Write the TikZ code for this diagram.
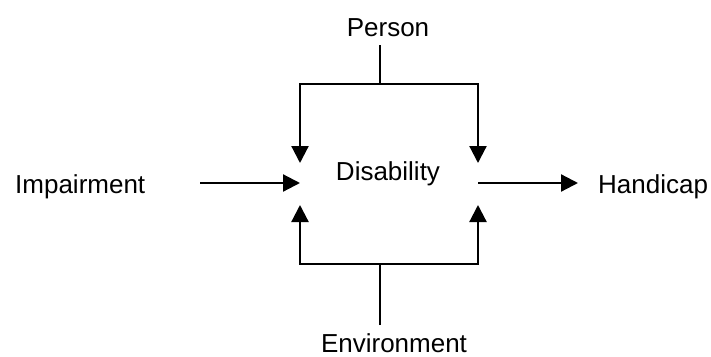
\documentclass[tikz,border=0pt]{standalone}
\usepackage{fontspec}
\setmainfont{Liberation Sans}
\usetikzlibrary{arrows.meta}

\begin{document}
\begin{tikzpicture}[x=1pt, y=-1pt,
		term/.style={font=\fontsize{26}{30}\selectfont, inner sep=0pt, anchor=base},
		wire/.style={line width=2.2pt},
		flow/.style={line width=2.2pt, -{Triangle[length=17pt, width=17pt]}}]
	%%%%% START %%%%%
	\useasboundingbox (0, 0) rectangle (711, 356);
	
	\node[term] (person) at (388, 36) {Person};
	\node[term] (disab) at (388, 180) {Disability};
	\node[term, anchor=base west] (impair) at (15, 193) {Impairment};
	\node[term, anchor=base west] (handicap) at (598, 193) {Handicap};
	\node[term] (environ) at (394, 352) {Environment};
	
	% person side
	\coordinate (ptop) at (380, 45);
	\coordinate (pmid) at (380, 84);
	\coordinate (dl) at (300, 163);
	\coordinate (dr) at (478, 163);
	\draw[wire] (ptop) -- (pmid);
	\draw[flow] (pmid) -| (dl);
	\draw[flow] (pmid) -| (dr);
	
	% environment side
	\coordinate (ebot) at (380, 325);
	\coordinate (emid) at (380, 264);
	\coordinate (ul) at (300, 205);
	\coordinate (ur) at (478, 205);
	\draw[wire] (ebot) -- (emid);
	\draw[flow] (emid) -| (ul);
	\draw[flow] (emid) -| (ur);
	
	% main line
	\coordinate (ia) at (200, 183);
	\coordinate (ib) at (300, 183);
	\coordinate (ha) at (478, 183);
	\coordinate (hb) at (578, 183);
	\draw[flow] (ia) -- (ib);
	\draw[flow] (ha) -- (hb);
	
	%%%%% END %%%%%
\end{tikzpicture}
\end{document}
